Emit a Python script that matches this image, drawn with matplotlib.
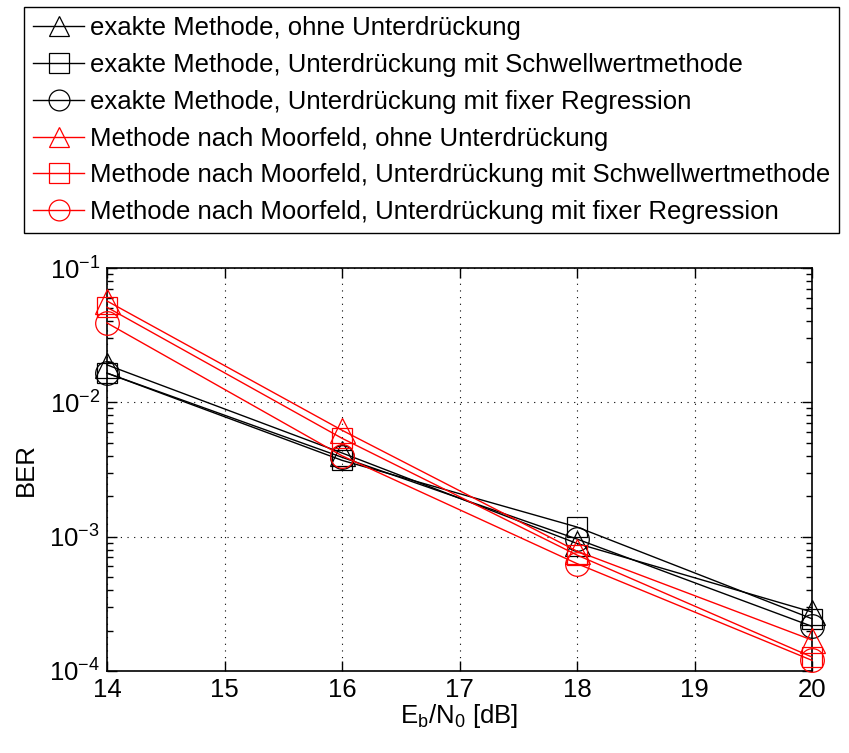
import matplotlib.pyplot as plt
from matplotlib.ticker import LogLocator, NullFormatter

plt.rcParams['font.family'] = ['Liberation Sans', 'DejaVu Sans']

ebn0 = [14, 16, 18, 20]

ex_ohne = [0.019, 0.0042, 0.00089, 2.75e-4]
ex_schwelle = [0.0165, 0.0037, 0.00118, 2.45e-4]
ex_regr = [0.0165, 0.0039, 0.00096, 2.15e-4]
mo_ohne = [0.0568, 0.0062, 0.00078, 1.7e-4]
mo_schwelle = [0.051, 0.0054, 0.00073, 1.27e-4]
mo_regr = [0.039, 0.0040, 0.00063, 1.2e-4]

labels = [
    'exakte Methode, ohne Unterdrückung',
    'exakte Methode, Unterdrückung mit Schwellwertmethode',
    'exakte Methode, Unterdrückung mit fixer Regression',
    'Methode nach Moorfeld, ohne Unterdrückung',
    'Methode nach Moorfeld, Unterdrückung mit Schwellwertmethode',
    'Methode nach Moorfeld, Unterdrückung mit fixer Regression',
]
series = [ex_ohne, ex_schwelle, ex_regr, mo_ohne, mo_schwelle, mo_regr]
colors = ['black'] * 3 + ['red'] * 3
markers = ['^', 's', 'o'] * 2
msizes = {'^': 18, 's': 14, 'o': 17}

fig = plt.figure(figsize=(8.49, 7.53), dpi=100)
ax = fig.add_axes([107 / 849, 1 - 671 / 753, (812 - 107) / 849, (671 - 268) / 753])

for vals, c, m, lab in zip(series, colors, markers, labels):
    ax.semilogy(ebn0, vals, color=c, marker=m, markersize=msizes[m], markerfacecolor='none',
                markeredgewidth=0.9, linewidth=1.0, label=lab, clip_on=False, zorder=3)

ax.set_xlim(14, 20)
ax.set_ylim(1e-4, 1e-1)
ax.set_xticks([14, 15, 16, 17, 18, 19, 20])
ax.yaxis.set_major_locator(LogLocator(base=10, numticks=10))
ax.yaxis.set_minor_locator(LogLocator(base=10, subs=range(2, 10), numticks=10))
ax.yaxis.set_minor_formatter(NullFormatter())
ax.grid(True, which='major', linestyle=(0, (1, 5)), color='black', linewidth=0.8)
for s in ax.spines.values():
    s.set_linewidth(1.2)
ax.tick_params(which='both', direction='in', top=True, right=True, labelsize=18.5, width=1.0)
ax.tick_params(which='major', length=7, pad=5)
ax.tick_params(which='minor', length=4)
ax.set_xlabel(r'E$_\mathregular{b}$/N$_\mathregular{0}$ [dB]', fontsize=18.5, labelpad=0)
ax.set_ylabel('BER', fontsize=18.5, labelpad=8)

leg = fig.legend(loc='upper left', bbox_to_anchor=(24 / 849, 1 - 7 / 753), fontsize=18.5,
                 handlelength=2.0, labelspacing=0.5, borderpad=0.35, handletextpad=0.2,
                 borderaxespad=0, fancybox=False, edgecolor='black', framealpha=1)
leg.get_frame().set_linewidth(1.0)
for h in leg.legend_handles:
    h.set_markersize(15)

fig.savefig('out.png', dpi=100)
